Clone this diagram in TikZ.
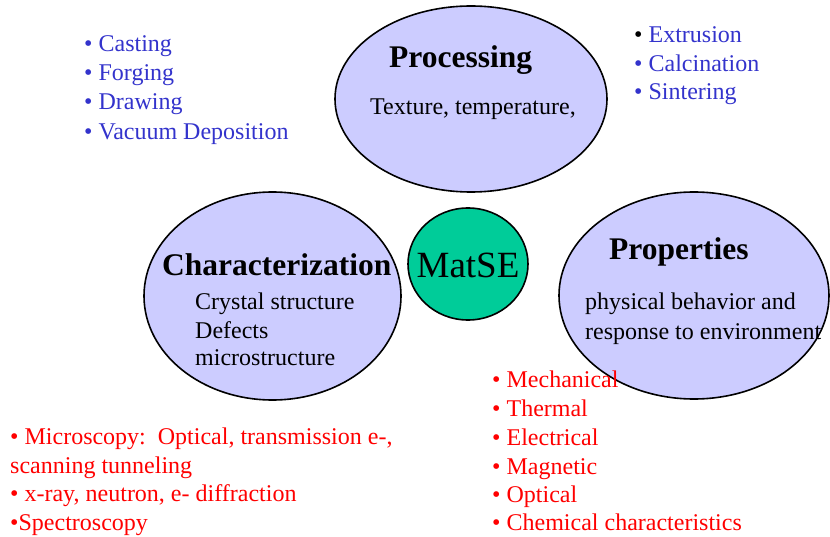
\documentclass[tikz,border=0pt]{standalone}
\usepackage{fontspec}
\setmainfont{Liberation Serif}
\usetikzlibrary{shapes.geometric}
\definecolor{lav}{RGB}{204,204,255}
\definecolor{sea}{RGB}{0,204,153}
\definecolor{itemblue}{RGB}{51,51,204}
\definecolor{itemred}{RGB}{255,0,0}
\tikzset{
  blob/.style={ellipse, draw=black, line width=1.6pt, fill=lav, inner sep=0pt},
  core/.style={ellipse, draw=black, line width=1.6pt, fill=sea, inner sep=0pt},
  title/.style={anchor=base west, inner sep=0pt, font=\fontsize{31.5}{38}\selectfont\bfseries},
  body/.style={anchor=base west, inner sep=0pt, font=\fontsize{24}{29}\selectfont},
  blueitem/.style={body, text=itemblue},
  reditem/.style={body, text=itemred},
}
\begin{document}
\begin{tikzpicture}[x=1pt, y=-1pt]
\useasboundingbox (0,0) rectangle (830,537);

% the three fields and the core
\node[blob, minimum width=272pt, minimum height=186pt] (proc) at (471,99) {};
\node[blob, minimum width=257pt, minimum height=208pt] (char) at (272.5,296) {};
\node[blob, minimum width=270pt, minimum height=207pt] (prop) at (694,295.5) {};
\node[core, minimum width=120pt, minimum height=112pt] (core) at (468,264) {};
\node[anchor=base, inner sep=0pt, font=\fontsize{37}{44}\selectfont] (coretxt) at (468,278) {MatSE};

% Processing
\node[title] (proct) at (389,68) {Processing};
\node[body] (procb) at (370,115) {Texture, temperature,};

% Characterization
\node[title] (chart) at (162,276) {Characterization};
\node[body] (charb1) at (195,309) {Crystal structure};
\node[body] (charb2) at (195,338) {Defects};
\node[body] (charb3) at (195,366) {microstructure};

% Properties
\node[title] (propt) at (609,260) {Properties};
\node[body] (propb1) at (585,310) {physical behavior and};
\node[body] (propb2) at (585,340) {response to environment};

% processing routes, left
\node[blueitem] (p1) at (84,52) {• Casting};
\node[blueitem] (p2) at (84,81) {• Forging};
\node[blueitem] (p3) at (84,110) {• Drawing};
\node[blueitem] (p4) at (84,140) {• Vacuum Deposition};

% processing routes, right
\node[blueitem] (p5) at (634,43) {\textcolor{black}{•} Extrusion};
\node[blueitem] (p6) at (634,72) {• Calcination};
\node[blueitem] (p7) at (634,100) {• Sintering};

% characterization methods
\node[reditem] (c1) at (10,444) {• Microscopy:\ \ Optical, transmission e-,};
\node[reditem] (c2) at (10,473) {scanning tunneling};
\node[reditem] (c3) at (10,501) {• x-ray, neutron, e- diffraction};
\node[reditem] (c4) at (10,530) {•Spectroscopy};

% property classes
\node[reditem] (r1) at (492,387) {• Mechanical};
\node[reditem] (r2) at (492,416) {• Thermal};
\node[reditem] (r3) at (492,445) {• Electrical};
\node[reditem] (r4) at (492,474) {• Magnetic};
\node[reditem] (r5) at (492,502) {• Optical};
\node[reditem] (r6) at (492,530) {• Chemical characteristics};
\end{tikzpicture}
\end{document}
